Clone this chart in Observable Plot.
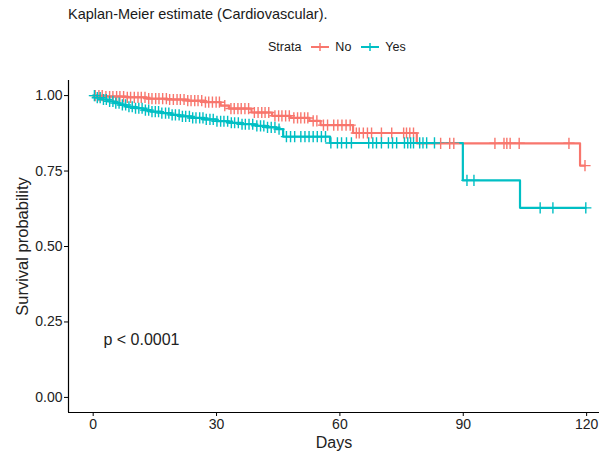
<!DOCTYPE html>
<html><head><meta charset="utf-8">
<script src="https://cdn.jsdelivr.net/npm/d3@7"></script>
<script src="https://cdn.jsdelivr.net/npm/@observablehq/plot@0.6"></script>
<style>
body{margin:0;background:#fff;font-family:"Liberation Sans",Arial,sans-serif;}
#wrap{position:relative;width:599px;height:455px;overflow:hidden;background:#fff;}
#head{position:relative;height:65px;}
#title{position:absolute;left:68px;top:6px;font-size:14.5px;color:#1a1a1a;white-space:nowrap;}
#legend{position:absolute;left:268px;top:40px;display:flex;align-items:center;font-size:12.5px;color:#1a1a1a;white-space:nowrap;}
#legend .key{display:inline-block;width:20px;height:14px;margin:0 5px;}
#legend .lab{margin-right:4px;}
#chart svg{display:block;}
</style></head>
<body><div id="wrap"><div id="head"><div id="title"></div><div id="legend"></div></div><div id="chart"></div></div>
<script>
const title = "Kaplan-Meier estimate (Cardiovascular).";
const legendTitle = "Strata";
const strata = ["No", "Yes"];
const colors = ["#F8766D", "#00BFC4"];
const xTicks = [0, 30, 60, 90, 120];
const yTicks = [0, 0.25, 0.5, 0.75, 1];
const xLabel = "Days";
const yLabel = "Survival probability";
const pText = "p < 0.0001";

// Strata "No": step times and survival
const noStepDays = [0, 3, 8, 13, 18, 23, 27, 31, 33, 38.5, 43.5, 48, 52.6, 55.3, 63.2, 78.7, 118.4];
const noStepSurv = [1.0, 0.997, 0.994, 0.990, 0.987, 0.983, 0.978, 0.967, 0.957, 0.944, 0.933, 0.926, 0.916, 0.902, 0.876, 0.842, 0.768];
const noEndDay = 119.6;
const noCensor = [0.5, 1.4, 2.2, 3.1, 4.0, 4.8, 5.7, 6.5, 7.4, 8.3, 9.1, 10.0, 10.9, 11.7, 12.6, 13.5, 14.3, 15.2, 16.0, 16.9,
  17.8, 18.6, 19.5, 20.4, 21.2, 22.1, 23.0, 23.8, 24.7, 25.5, 26.4, 27.3, 28.1, 29.0, 29.9, 30.7, 32.0, 33.5, 34.3, 35.2,
  36.0, 36.9, 37.8, 39.2, 40.1, 41.0, 41.8, 42.7, 44.2, 45.1, 45.9, 46.8, 47.7, 48.8, 49.7, 50.5, 51.4, 52.2, 53.5, 54.4,
  56, 57, 58.5, 59.5, 60.5, 61.5, 62.5, 64, 64.7, 65.7, 66.7, 67.7, 70.1, 72.6, 75.5, 76.2, 77, 77.9,
  84.5, 86.7, 87.7, 97.7, 99.9, 100.6, 101.4, 103.6, 115.7, 119.6];

// Strata "Yes"
const yesStepDays = [0, 1, 2, 3.5, 5, 6.5, 8, 10, 12, 14, 16.5, 19, 21, 24, 27, 30, 33, 36, 39.5, 42, 44.5, 46.2, 57.6, 89.9, 103.8];
const yesStepSurv = [1.0, 0.993, 0.987, 0.981, 0.975, 0.969, 0.963, 0.958, 0.952, 0.947, 0.942, 0.936, 0.931, 0.926, 0.921, 0.915, 0.910, 0.905, 0.900, 0.895, 0.889, 0.864, 0.843, 0.719, 0.628];
const yesEndDay = 119.8;
const yesCensor = [0.3, 1.0, 1.7, 2.5, 3.2, 4.0, 4.8, 5.5, 6.3, 7.1, 7.9, 8.7, 9.5, 10.3, 11.1, 11.9, 12.7, 13.5, 14.3, 15.1,
  15.9, 16.7, 17.6, 18.4, 19.2, 20.0, 20.9, 21.7, 22.5, 23.4, 24.2, 25.0, 25.9, 26.7, 27.5, 28.4, 29.2, 30.1, 31.0, 31.8,
  32.7, 33.6, 34.4, 35.3, 36.2, 37.0, 37.9, 38.8, 39.8, 40.7, 41.5, 42.4, 43.3, 44.2, 45.2, 47.0, 48.0, 49.0, 50.5, 51.5,
  52.5, 53.5, 54.5, 55.5, 56.5, 57.8, 59.4, 60.4, 61.6, 62.8, 67, 68, 68.9, 70.1, 71.8, 72.8, 73.8, 75.7, 76.5, 77.2,
  77.9, 79.4, 80.2, 81.1, 83, 90.9, 92.6, 108.7, 111.8, 119.8];

function survAt(days, surv, t) {
  let s = surv[0];
  for (let i = 0; i < days.length; i++) if (days[i] <= t) s = surv[i];
  return s;
}
function stepRows(name, days, surv, end) {
  const rows = days.map((d, i) => ({strata: name, day: d, surv: surv[i]}));
  rows.push({strata: name, day: end, surv: surv[surv.length - 1]});
  return rows;
}
function censorRows(name, times, days, surv) {
  return times.map(t => ({strata: name, day: t, surv: survAt(days, surv, t)}));
}
const lines = [...stepRows("No", noStepDays, noStepSurv, noEndDay), ...stepRows("Yes", yesStepDays, yesStepSurv, yesEndDay)];
const censors = [...censorRows("No", noCensor, noStepDays, noStepSurv), ...censorRows("Yes", yesCensor, yesStepDays, yesStepSurv)];

document.getElementById("title").textContent = title;
const leg = document.getElementById("legend");
leg.innerHTML = `<span class="lab">${legendTitle}</span>` + strata.map((s, i) =>
  `<svg class="key" viewBox="0 0 20 14"><line x1="1" x2="19" y1="7" y2="7" stroke="${colors[i]}" stroke-width="2"/><line x1="10" x2="10" y1="3" y2="11" stroke="${colors[i]}" stroke-width="1.5"/></svg><span class="lab">${s}</span>`).join("");

const chart = Plot.plot({
  width: 599, height: 390,
  marginLeft: 68, marginRight: 0, marginTop: 15, marginBottom: 43,
  x: {domain: [-6, 126], range: [68, 610.8]},
  y: {domain: [-0.05, 1.05]},
  color: {domain: strata, range: colors},
  style: {fontFamily: "'Liberation Sans', Arial, sans-serif", color: "black", background: "white", overflow: "hidden"},
  marks: [
    Plot.ruleX([-6], {stroke: "black", strokeWidth: 1.2}),
    Plot.ruleY([-0.05], {stroke: "black", strokeWidth: 1.2}),
    Plot.axisX({ticks: xTicks, tickSize: 4, tickPadding: 3, fontSize: 14, label: null, fill: "#222"}),
    Plot.axisY({ticks: yTicks, tickFormat: d3.format(".2f"), tickSize: 4, tickPadding: 2, fontSize: 14, label: null, fill: "#222"}),
    Plot.line(lines, {x: "day", y: "surv", z: "strata", stroke: "strata", curve: "step-after", strokeWidth: 2.2}),
    Plot.dot(censors, {x: "day", y: "surv", stroke: "strata", symbol: "plus", r: 3.7, strokeWidth: 1.4}),
    Plot.text([xLabel], {frameAnchor: "bottom", lineAnchor: "middle", dy: 30, fontSize: 16, fill: "#222"}),
    Plot.text([yLabel], {frameAnchor: "left", textAnchor: "middle", lineAnchor: "middle", dx: -46, rotate: -90, fontSize: 16.5, fill: "#222"}),
    Plot.text([pText], {x: 2.5, y: 0.19, textAnchor: "start", fontSize: 16, fill: "#222"})
  ]
});
document.getElementById("chart").appendChild(chart);
</script></body></html>
